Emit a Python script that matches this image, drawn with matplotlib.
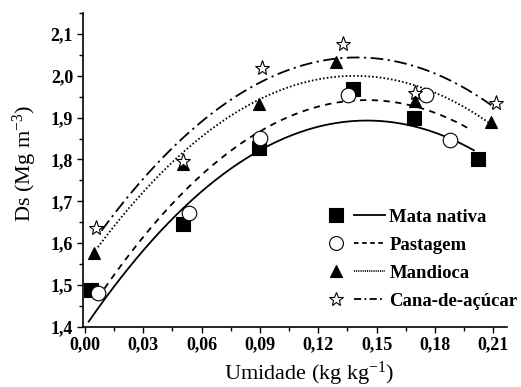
import numpy as np
import matplotlib
matplotlib.use("Agg")
import matplotlib.pyplot as plt
from matplotlib.lines import Line2D
from matplotlib.legend_handler import HandlerTuple
from matplotlib.ticker import MultipleLocator

plt.rcParams['font.family'] = ['Liberation Serif', 'DejaVu Serif']
plt.rcParams['mathtext.fontset'] = 'custom'
plt.rcParams['mathtext.rm'] = 'Liberation Serif'
plt.rcParams['mathtext.it'] = 'Liberation Serif:italic'
plt.rcParams['mathtext.bf'] = 'Liberation Serif:bold'

# ---- data ----
series_names = ["Mata nativa", "Pastagem", "Mandioca", "Cana-de-açúcar"]

x_mata = [0.0034, 0.0503, 0.0897, 0.1378, 0.169, 0.2019]
y_mata = [1.487, 1.646, 1.827, 1.968, 1.900, 1.801]

x_past = [0.0069, 0.0537, 0.0900, 0.1355, 0.1755, 0.1875]
y_past = [1.480, 1.672, 1.851, 1.954, 1.954, 1.847]

x_mand = [0.0046, 0.0503, 0.0897, 0.1292, 0.1698, 0.2088]
y_mand = [1.575, 1.788, 1.932, 2.032, 1.939, 1.889]

x_cana = [0.0060, 0.0503, 0.0909, 0.1329, 0.1698, 0.2115]
y_cana = [1.637, 1.796, 2.018, 2.077, 1.958, 1.934]

# quadratic regression curves y = a + b*x + c*x^2
fit_a = [1.3985, 1.421, 1.5473, 1.5736]
fit_b = [6.821, 7.186, 6.527, 6.72]
fit_c = [-23.52, -24.78, -23.53, -24.0]
fit_xmin = [0.002, 0.0067, 0.0067, 0.0086]
fit_xmax = [0.200, 0.199, 0.2074, 0.209]

x_ticks = [0.00, 0.03, 0.06, 0.09, 0.12, 0.15, 0.18, 0.21]
x_ticklabels = ["0,00", "0,03", "0,06", "0,09", "0,12", "0,15", "0,18", "0,21"]
y_ticks = [1.4, 1.5, 1.6, 1.7, 1.8, 1.9, 2.0, 2.1]
y_ticklabels = ["1,4", "1,5", "1,6", "1,7", "1,8", "1,9", "2,0", "2,1"]

# ---- styles ----
markers = ['s', 'o', '^', '*']
mfaces = ['black', 'white', 'black', 'white']
msizes = [10, 10.5, 9, 11]
lstyles = ['-', (0, (3.5, 3.0)), (0, (0.9, 1.2)), (0, (7, 2.5, 1.2, 2.5))]
leg_lstyles = ['-', (0, (2.5, 2.0)), (0, (0.6, 0.6)), (0, (4, 1.8, 1.0, 1.8))]

W, H = 521, 387
fig = plt.figure(figsize=(W / 100, H / 100), dpi=100)
ax = fig.add_axes([0.159, 0.156, 0.814, 0.81])

xs_all = [x_mata, x_past, x_mand, x_cana]
ys_all = [y_mata, y_past, y_mand, y_cana]

handles = []
for i in range(4):
    xx = np.linspace(fit_xmin[i], fit_xmax[i], 200)
    yy = fit_a[i] + fit_b[i] * xx + fit_c[i] * xx ** 2
    ax.plot(xx, yy, color='black', lw=1.3, linestyle=lstyles[i], zorder=2)
    ax.plot(xs_all[i], ys_all[i], linestyle='none', marker=markers[i],
            markersize=msizes[i], markerfacecolor=mfaces[i],
            markeredgecolor='black', markeredgewidth=0.8, zorder=3)
    hm = Line2D([], [], linestyle='none', marker=markers[i], markersize=msizes[i] * 0.95,
                markerfacecolor=mfaces[i], markeredgecolor='black', markeredgewidth=0.8)
    hl = Line2D([], [], color='black', lw=1.3, linestyle=leg_lstyles[i])
    handles.append((hm, hl))

ax.set_xlim(-0.001, 0.217)
ax.set_ylim(1.4, 2.15)
ax.set_xticks(x_ticks)
ax.set_xticklabels(x_ticklabels)
ax.set_yticks(y_ticks)
ax.set_yticklabels(y_ticklabels)
ax.xaxis.set_minor_locator(MultipleLocator(0.015))
ax.yaxis.set_minor_locator(MultipleLocator(0.05))
ax.tick_params(which='major', direction='out', length=4, width=1, labelsize=13, pad=3)
ax.tick_params(which='minor', direction='out', length=3, width=1)
for lab in ax.get_xticklabels() + ax.get_yticklabels():
    lab.set_fontweight('bold')

for s in ['top', 'right']:
    ax.spines[s].set_visible(False)
for s in ['left', 'bottom']:
    ax.spines[s].set_linewidth(1.2)

ax.set_xlabel(r'Umidade (kg kg$^{-1}$)', fontsize=16)
ax.set_ylabel(r'Ds (Mg m$^{-3}$)', fontsize=16)
ax.xaxis.set_label_coords(0.534, -0.105)
ax.yaxis.set_label_coords(-0.104, 0.52)

leg = fig.legend(handles, series_names,
                 handler_map={tuple: HandlerTuple(ndivide=None, pad=0.13)},
                 loc='upper left', bbox_to_anchor=(320 / W, 1 - 208.5 / H),
                 bbox_transform=fig.transFigure, frameon=False,
                 prop={'weight': 'bold', 'size': 13.5},
                 handlelength=3.45, handletextpad=0.25, labelspacing=0.58,
                 borderaxespad=0.0, borderpad=0.0)

fig.savefig('out.png', dpi=100)
